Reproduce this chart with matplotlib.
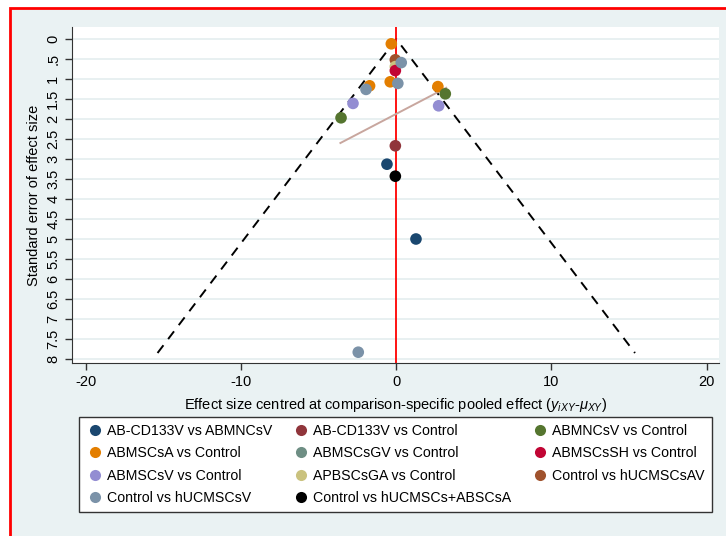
import matplotlib.pyplot as plt
from matplotlib.patches import Rectangle

plt.rcParams['font.family'] = ['Liberation Sans', 'DejaVu Sans']
plt.rcParams['mathtext.fontset'] = 'custom'
plt.rcParams['mathtext.rm'] = 'Liberation Sans'
plt.rcParams['mathtext.it'] = 'Liberation Sans:italic'
plt.rcParams['axes.unicode_minus'] = False

# comparisons shown in the legend, with Stata s2color colours
comparisons = ['AB-CD133V vs ABMNCsV', 'AB-CD133V vs Control', 'ABMNCsV vs Control',
               'ABMSCsA vs Control', 'ABMSCsGV vs Control', 'ABMSCsSH vs Control',
               'ABMSCsV vs Control', 'APBSCsGA vs Control', 'Control vs hUCMSCsAV',
               'Control vs hUCMSCsV', 'Control vs hUCMSCs+ABSCsA']
colors = ['#1a476f', '#90353b', '#55752f', '#e37e00', '#6e8e84', '#c10534',
          '#938dd2', '#cac27e', '#a0522d', '#7b92a8', '#000000']

# centred effect sizes and standard errors per comparison
effects = {
    'AB-CD133V vs ABMNCsV': ([-0.6, 1.27], [3.13, 5.0]),
    'AB-CD133V vs Control': ([-0.06], [2.67]),
    'ABMNCsV vs Control': ([3.16, -3.56], [1.37, 1.97]),
    'ABMSCsA vs Control': ([-0.32, -0.39, -1.72, 2.68], [0.12, 1.07, 1.17, 1.19]),
    'ABMSCsGV vs Control': ([], []),
    'ABMSCsSH vs Control': ([-0.06], [0.79]),
    'ABMSCsV vs Control': ([2.73, -2.79], [1.67, 1.61]),
    'APBSCsGA vs Control': ([-0.06], [0.69]),
    'Control vs hUCMSCsAV': ([-0.06], [0.52]),
    'Control vs hUCMSCsV': ([0.32, 0.1, -1.95, -2.45], [0.59, 1.11, 1.26, 7.83]),
    'Control vs hUCMSCs+ABSCsA': ([-0.06], [3.43]),
}
draw_order = ['Control vs hUCMSCsAV', 'APBSCsGA vs Control', 'ABMSCsSH vs Control',
              'ABMSCsA vs Control', 'Control vs hUCMSCsV', 'ABMNCsV vs Control',
              'ABMSCsV vs Control', 'AB-CD133V vs Control', 'AB-CD133V vs ABMNCsV',
              'Control vs hUCMSCs+ABSCsA', 'ABMSCsGV vs Control']

max_se = 7.85
reg_x = [-3.6, 3.22]
reg_y = [2.6, 1.22]

fig = plt.figure(figsize=(7.26, 5.36), dpi=100, facecolor='white')
fig.patches.append(Rectangle((10 / 726, -0.1), 1.2, (1 - 8 / 536) + 0.1,
                             transform=fig.transFigure, facecolor='#eaf2f3',
                             edgecolor='red', linewidth=2, zorder=-5))

ax = fig.add_axes([72 / 726, 1 - 363 / 536, (719 - 72) / 726, (363 - 27) / 536])
ax.set_facecolor('white')

yt = [i * 0.5 for i in range(17)]
for y in yt:
    ax.axhline(y, color='#e6eff0', linewidth=1.3, zorder=1)

ax.plot([-1.96 * max_se, 0, 1.96 * max_se], [max_se, 0, max_se], color='black',
        linestyle=(0, (5, 4)), linewidth=1.4, zorder=2)
ax.axvline(0, color='red', linewidth=1.3, zorder=2)
ax.plot(reg_x, reg_y, color='#c8a69e', linewidth=1.4, zorder=2)

for name in draw_order:
    c = colors[comparisons.index(name)]
    xs, ys = effects[name]
    ax.scatter(xs, ys, s=70, color=c, edgecolors='none', zorder=3)

ax.set_xlim(-20.9, 20.8)
ax.set_ylim(8.1, -0.3)
ax.set_xticks([-20, -10, 0, 10, 20])
ax.set_yticks(yt)
ax.set_yticklabels(['0' if v == 0 else ('%g' % v).lstrip('0') for v in yt],
                   rotation=90, va='center')
ax.tick_params(axis='both', labelsize=10.5, length=5, width=1, color='#333333')
for s in ['top', 'right']:
    ax.spines[s].set_visible(False)
for s in ['left', 'bottom']:
    ax.spines[s].set_color('#333333')
ax.set_ylabel('Standard error of effect size', fontsize=10.5, labelpad=4)
ax.set_xlabel(r'Effect size centred at comparison-specific pooled effect ($y_{iXY}$-$\mu_{XY}$)',
              fontsize=10.5, labelpad=5)

order = [0, 3, 6, 9, 1, 4, 7, 10, 2, 5, 8]
leg_h = [plt.Line2D([], [], marker='o', linestyle='none', markersize=8,
                    markerfacecolor=colors[i], markeredgecolor='none') for i in order]
leg_l = [comparisons[i] for i in order]
leg = fig.legend(leg_h, leg_l, ncol=3, loc='center',
                 bbox_to_anchor=(79 / 726, 1 - 512 / 536, (712 - 79) / 726, (512 - 417) / 536),
                 mode='expand', fontsize=10.2, frameon=True, fancybox=False,
                 facecolor='white', framealpha=1,
                 edgecolor='#333333', borderaxespad=0, handletextpad=0.3,
                 handlelength=1.2, labelspacing=0.6, borderpad=0.5)
leg.get_frame().set_linewidth(1)

fig.savefig('out.png', dpi=100)
